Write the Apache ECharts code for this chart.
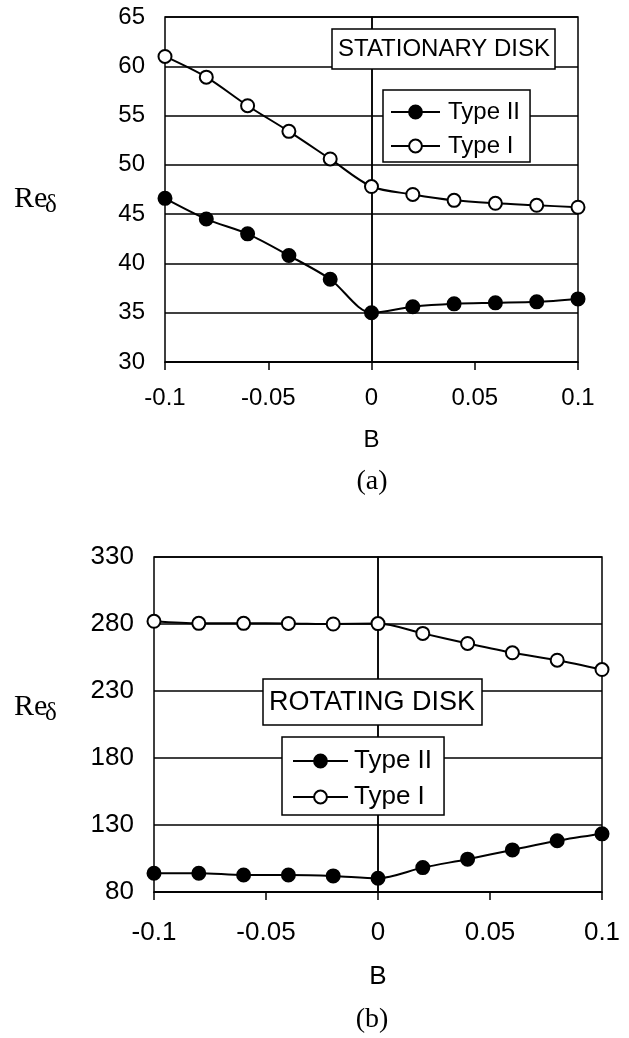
<!DOCTYPE html>
<html>
<head>
<meta charset="utf-8">
<script src="https://cdn.jsdelivr.net/npm/echarts@6/dist/echarts.min.js"></script>
<style>
html,body{margin:0;padding:0;background:#fff;}
#chart{width:629px;height:1038px;}
</style>
</head>
<body>
<div id="chart"></div>
<script>
// ---- data ----
var bValues = [-0.1, -0.08, -0.06, -0.04, -0.02, 0, 0.02, 0.04, 0.06, 0.08, 0.1];
var xTickLabels = ['-0.1', '-0.05', '0', '0.05', '0.1'];
var seriesNames = ['Type II', 'Type I'];

// (a) stationary disk
var stationaryTypeII = [46.6, 44.5, 43.0, 40.8, 38.4, 35.0, 35.6, 35.9, 36.0, 36.1, 36.4];
var stationaryTypeI  = [61.0, 58.9, 56.0, 53.4, 50.6, 47.8, 47.0, 46.4, 46.1, 45.9, 45.7];
var stationaryYTicks = [30, 35, 40, 45, 50, 55, 60, 65];

// (b) rotating disk
var rotatingTypeII = [94, 94, 92.7, 92.7, 92, 90.3, 98.2, 104.5, 111.4, 118.2, 123.4];
var rotatingTypeI  = [282, 280.5, 280.5, 280.4, 280, 280.3, 273, 265.5, 258.5, 253, 246];
var rotatingYTicks = [80, 130, 180, 230, 280, 330];

function pairs(xs, ys) { return xs.map(function (x, i) { return [x, ys[i]]; }); }

var SANS = "'Liberation Sans', Arial, sans-serif";
var SERIF = "'Liberation Serif', 'Times New Roman', serif";

var chart = echarts.init(document.getElementById('chart'), null, {renderer: 'canvas'});

function xFmt(v) {
  var best = xTickLabels[0], d = 1e9;
  xTickLabels.forEach(function (s) { var dd = Math.abs(parseFloat(s) - v); if (dd < d) { d = dd; best = s; } });
  return best;
}

function mkSeries(name, data, gi, filled, withZeroLine) {
  var s = {
    name: name, type: 'line', xAxisIndex: gi, yAxisIndex: gi,
    data: data, smooth: 0.3,
    symbol: 'circle', symbolSize: 13,
    lineStyle: {color: '#000', width: 2},
    itemStyle: {color: filled ? '#000' : '#fff', borderColor: '#000', borderWidth: 2},
    emphasis: {disabled: true},
    z: 3
  };
  if (withZeroLine) {
    s.markLine = {
      silent: true, symbol: 'none', label: {show: false},
      lineStyle: {color: '#000', type: 'solid', width: 1.5},
      data: [{xAxis: 0}], z: 1, animation: false
    };
  }
  return s;
}

function xAxisCfg(gi, fs, labelMargin, nameGap) {
  return {
    gridIndex: gi, type: 'value', min: -0.1, max: 0.1, interval: 0.05,
    name: 'B', nameLocation: 'middle', nameGap: nameGap,
    nameTextStyle: {fontFamily: SANS, fontSize: fs, color: '#000'},
    axisLine: {show: true, onZero: false, lineStyle: {color: '#000', width: 1.5}},
    axisTick: {show: true, inside: false, length: 8, lineStyle: {color: '#000', width: 1.5}},
    axisLabel: {fontFamily: SANS, fontSize: fs, color: '#000', margin: labelMargin, formatter: xFmt},
    splitLine: {show: false}
  };
}

function yAxisCfg(gi, ticks, fs) {
  return {
    gridIndex: gi, type: 'value', min: ticks[0], max: ticks[ticks.length - 1],
    interval: ticks[1] - ticks[0],
    axisLine: {show: true, lineStyle: {color: '#000', width: 1.5}},
    axisTick: {show: false},
    axisLabel: {fontFamily: SANS, fontSize: fs, color: '#000', margin: 20},
    splitLine: {show: true, lineStyle: {color: '#000', width: 1.5}}
  };
}

var option = {
  backgroundColor: '#fff',
  animation: false,
  grid: [
    {left: 165, top: 17, width: 413, height: 345, show: true, borderColor: '#000', borderWidth: 1.5, backgroundColor: '#fff'},
    {left: 154, top: 557, width: 448, height: 335, show: true, borderColor: '#000', borderWidth: 1.5, backgroundColor: '#fff'}
  ],
  xAxis: [xAxisCfg(0, 24, 24, 66), xAxisCfg(1, 26, 28, 72)],
  yAxis: [yAxisCfg(0, stationaryYTicks, 24), yAxisCfg(1, rotatingYTicks, 26)],
  title: [
    {text: 'STATIONARY DISK', left: 332, top: 29, padding: [8, 5, 8, 6],
     borderColor: '#000', borderWidth: 1.5, backgroundColor: '#fff',
     textStyle: {fontFamily: SANS, fontSize: 24, fontWeight: 'normal', color: '#000'}},
    {text: 'ROTATING DISK', left: 263, top: 679, padding: [10, 7, 9, 6],
     borderColor: '#000', borderWidth: 1.5, backgroundColor: '#fff',
     textStyle: {fontFamily: SANS, fontSize: 27, fontWeight: 'normal', color: '#000'}},
    {text: '(a)', left: 372, top: 482, textAlign: 'center', textVerticalAlign: 'middle', padding: 0,
     textStyle: {fontFamily: SERIF, fontSize: 28, fontWeight: 'normal', color: '#000'}},
    {text: '(b)', left: 372, top: 1020, textAlign: 'center', textVerticalAlign: 'middle', padding: 0,
     textStyle: {fontFamily: SERIF, fontSize: 28, fontWeight: 'normal', color: '#000'}}
  ],
  legend: [
    {data: seriesNames, orient: 'vertical', left: 383, top: 90, padding: [10, 10, 4, 7],
     itemWidth: 49, itemHeight: 16, itemGap: 10,
     borderColor: '#000', borderWidth: 1.5, backgroundColor: '#fff', selectedMode: false,
     textStyle: {fontFamily: SANS, fontSize: 24, color: '#000', padding: [0, 0, 0, 3]}},
    {data: seriesNames, orient: 'vertical', left: 282, top: 737, padding: [11, 12, 5, 10],
     itemWidth: 55, itemHeight: 16, itemGap: 10,
     borderColor: '#000', borderWidth: 1.5, backgroundColor: '#fff', selectedMode: false,
     textStyle: {fontFamily: SANS, fontSize: 26, color: '#000', padding: [0, 0, 0, 1]}}
  ],
  graphic: [
    {type: 'text', left: 14, top: 184, style: {text: 'Re', font: '30px ' + SERIF, fill: '#000'}},
    {type: 'text', left: 45, top: 193, style: {text: 'δ', font: '25px ' + SERIF, fill: '#000'}},
    {type: 'text', left: 14, top: 692, style: {text: 'Re', font: '30px ' + SERIF, fill: '#000'}},
    {type: 'text', left: 45, top: 701, style: {text: 'δ', font: '25px ' + SERIF, fill: '#000'}}
  ],
  series: [
    mkSeries('Type II', pairs(bValues, stationaryTypeII), 0, true, true),
    mkSeries('Type I', pairs(bValues, stationaryTypeI), 0, false, false),
    mkSeries('Type II', pairs(bValues, rotatingTypeII), 1, true, true),
    mkSeries('Type I', pairs(bValues, rotatingTypeI), 1, false, false)
  ]
};
chart.setOption(option);
</script>
</body>
</html>
